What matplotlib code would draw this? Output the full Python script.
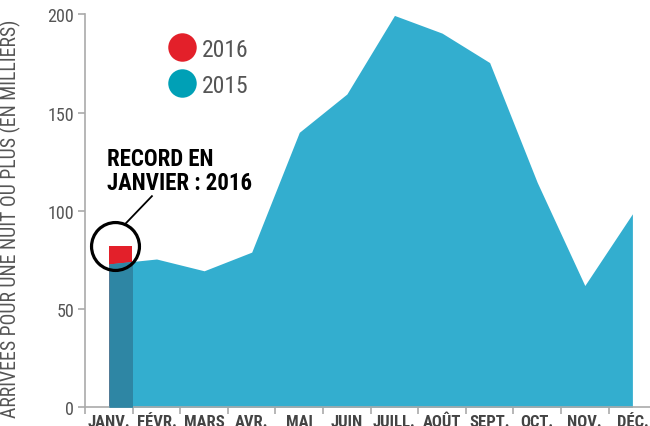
import numpy as np
import matplotlib
matplotlib.use('Agg')
import matplotlib.pyplot as plt
from matplotlib.patches import Rectangle

plt.rcParams['font.family'] = ['Roboto Condensed', 'DejaVu Sans']

# Données (en milliers d'arrivées)
mois = ['JANV.', 'FÉVR.', 'MARS', 'AVR.', 'MAI', 'JUIN',
        'JUILL.', 'AOÛT', 'SEPT.', 'OCT.', 'NOV.', 'DÉC.']
arrivees_2015 = [73, 75.5, 69.5, 79, 140, 159.5, 199.5, 190.5, 175.5, 114.5, 62, 98.5]
arrivees_2016 = [82]  # seulement janvier

col_2015 = '#33aecf'
col_2015_dark = '#2e86a4'
col_2016 = '#e3202a'
col_legende_2015 = '#00a0b6'
gris = '#555555'

x = np.arange(len(mois))

fig = plt.figure(figsize=(6.5, 4.27), dpi=100)
ax = fig.add_axes([0.131, 0.0438, 0.869, 0.920])

# barre 2016 (janvier)
bar = ax.bar(x[:1], arrivees_2016, width=0.48, align='edge', color=col_2016, zorder=1)

# aire 2015
ax.fill_between(x, arrivees_2015, 0, color=col_2015, lw=0, zorder=2)
# partie de l'aire sous la barre 2016, plus sombre
dark = ax.fill_between(x, arrivees_2015, 0, color=col_2015_dark, lw=0, zorder=3)
rect = bar.patches[0]
clip = Rectangle(rect.get_xy(), rect.get_width(), rect.get_height(), transform=ax.transData)
dark.set_clip_path(clip)

ax.set_xlim(-0.5, 11.37)
ax.set_ylim(0, 200)

for s in ['top', 'right']:
    ax.spines[s].set_visible(False)
ax.spines['left'].set_color('#aaaaaa')
ax.spines['bottom'].set_color('#aaaaaa')
ax.spines['left'].set_linewidth(1.2)
ax.spines['bottom'].set_linewidth(1.2)

ax.set_yticks([0, 50, 100, 150, 200])
ax.tick_params(axis='y', colors='#aaaaaa', labelcolor=gris, labelsize=13, length=5, width=1.2, pad=3)
ax.set_xticks(x)
ax.set_xticklabels(mois)
ax.set_xticks(np.arange(-0.5, 11, 1), minor=True)
ax.tick_params(axis='x', which='major', length=0, labelcolor='#444444', labelsize=12, pad=4.5)
ax.tick_params(axis='x', which='minor', length=5, width=1.2, color='#aaaaaa')
for lab in ax.get_xticklabels():
    lab.set_fontweight('semibold')

ax.set_ylabel('ARRIVÉES POUR UNE NUIT OU PLUS (EN MILLIERS)', fontsize=14.2, color=gris)
ax.yaxis.set_label_coords(-0.113, 0.482)

# légende
ax.plot([1.527], [183.3], 'o', ms=20.5, color=col_2016, mew=0, clip_on=False, zorder=5)
ax.plot([1.527], [165.2], 'o', ms=20.5, color=col_legende_2015, mew=0, clip_on=False, zorder=5)
ax.text(1.96, 183.3, '2016', fontsize=17, color=gris, va='center_baseline', ha='left')
ax.text(1.96, 165.2, '2015', fontsize=17, color=gris, va='center_baseline', ha='left')

# annotation record
ax.plot([0.137], [82.3], 'o', ms=34.5, mfc='none', mec='black', mew=2.3, clip_on=False, zorder=6)
ax.plot([0.336, 0.903], [93.2, 107.5], color='black', lw=1.3, zorder=6)
ax.text(-0.05, 111, 'RECORD EN\nJANVIER : 2016', fontsize=16.5, fontweight='bold',
        color='black', va='baseline', ha='left', linespacing=1.08)

fig.savefig('out.png')
